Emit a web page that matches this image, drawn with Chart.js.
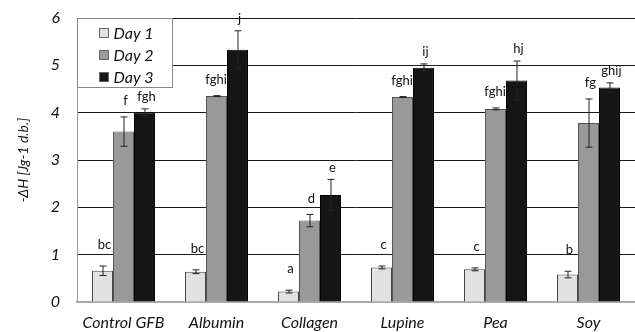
<!DOCTYPE html>
<html lang="en">
<head>
    <meta charset="UTF-8">
    <title>Enthalpy by protein and day</title>
    <script src="https://cdn.jsdelivr.net/npm/chart.js"></script>
    <style>
        html, body { margin: 0; padding: 0; background: #fff; }
        #wrap { width: 635px; height: 332px; }
    </style>
</head>
<body>
    <div id="wrap"><canvas id="dhChart" width="635" height="332"></canvas></div>

    <script>
        // categories and values
        const samples = ['Control GFB', 'Albumin', 'Collagen', 'Lupine', 'Pea', 'Soy'];
        const day1 = [0.66, 0.64, 0.22, 0.73, 0.69, 0.58];
        const day2 = [3.60, 4.35, 1.72, 4.33, 4.08, 3.78];
        const day3 = [4.01, 5.33, 2.26, 4.95, 4.68, 4.53];
        // standard deviations
        const err1 = [0.10, 0.04, 0.03, 0.03, 0.03, 0.07];
        const err2 = [0.31, 0.01, 0.13, 0.01, 0.02, 0.51];
        const err3 = [0.07, 0.40, 0.33, 0.08, 0.41, 0.10];
        // significance letters
        const sig1 = ['bc', 'bc', 'a', 'c', 'c', 'b'];
        const sig2 = ['f', 'fghi', 'd', 'fghi', 'fghi', 'fg'];
        const sig3 = ['fgh', 'j', 'e', 'ij', 'hj', 'ghij'];
        const yTicks = [0, 1, 2, 3, 4, 5, 6];

        const FONT = 'Lato';

        // error bars + letters above them
        const errorBars = {
            id: 'errorBars',
            afterDatasetsDraw(chart) {
                const ctx = chart.ctx;
                const y = chart.scales.y;
                const gaps = [21, 16, 12];
                ctx.save();
                chart.data.datasets.forEach((ds, di) => {
                    const meta = chart.getDatasetMeta(di);
                    meta.data.forEach((bar, i) => {
                        const v = ds.data[i], e = ds.err[i];
                        const yHi = y.getPixelForValue(v + e);
                        const yLo = y.getPixelForValue(v - e);
                        ctx.strokeStyle = '#222';
                        ctx.lineWidth = 1;
                        ctx.beginPath();
                        ctx.moveTo(bar.x + 0.5, yHi);
                        ctx.lineTo(bar.x + 0.5, yLo);
                        ctx.moveTo(bar.x - 3, yHi);
                        ctx.lineTo(bar.x + 4, yHi);
                        ctx.moveTo(bar.x - 3, yLo);
                        ctx.lineTo(bar.x + 4, yLo);
                        ctx.stroke();

                        ctx.fillStyle = '#111';
                        ctx.font = '13px ' + FONT;
                        ctx.textAlign = 'center';
                        ctx.textBaseline = 'middle';
                        const w = ctx.measureText(ds.sig[i]).width;
                        let cx = bar.x + 2;
                        // gray-bar letters stop at the black bar's edge
                        if (di === 1) cx = Math.min(cx, bar.x + bar.width / 2 - w / 2);
                        ctx.fillText(ds.sig[i], cx, yHi - gaps[di]);
                    });
                });
                ctx.restore();
            }
        };

        // boxed legend in the top-left corner of the plot
        const boxLegend = {
            id: 'boxLegend',
            afterDraw(chart) {
                const ctx = chart.ctx;
                const a = chart.chartArea;
                const x0 = Math.round(a.left) + 0.5, y0 = Math.round(a.top) + 0.5;
                ctx.save();
                ctx.fillStyle = '#fff';
                ctx.fillRect(x0, y0, 95, 69);
                ctx.strokeStyle = '#888';
                ctx.lineWidth = 1;
                ctx.strokeRect(x0, y0, 95, 69);
                chart.data.datasets.forEach((ds, i) => {
                    const cy = y0 + 14 + i * 22;
                    ctx.fillStyle = ds.backgroundColor;
                    ctx.fillRect(x0 + 22, cy - 4, 9, 9);
                    ctx.strokeStyle = '#666';
                    ctx.strokeRect(x0 + 22, cy - 4, 9, 9);
                    ctx.fillStyle = '#111';
                    ctx.font = 'italic 16px ' + FONT;
                    ctx.textAlign = 'left';
                    ctx.textBaseline = 'middle';
                    ctx.fillText(ds.label, x0 + 36, cy + 1);
                });
                ctx.restore();
            }
        };

        new Chart(document.getElementById('dhChart'), {
            type: 'bar',
            data: {
                labels: samples,
                datasets: [
                    { label: 'Day 1', data: day1, err: err1, sig: sig1,
                      backgroundColor: '#e1e1e1', borderColor: '#444', borderWidth: 1 },
                    { label: 'Day 2', data: day2, err: err2, sig: sig2,
                      backgroundColor: '#999999', borderColor: '#555', borderWidth: 1 },
                    { label: 'Day 3', data: day3, err: err3, sig: sig3,
                      backgroundColor: '#151515', borderColor: '#000', borderWidth: 1 }
                ]
            },
            options: {
                responsive: false,
                animation: false,
                layout: { padding: { top: 18, right: 0, left: 0, bottom: 0 } },
                datasets: { bar: { categoryPercentage: 0.677, barPercentage: 1.0 } },
                plugins: { legend: { display: false }, tooltip: { enabled: false } },
                scales: {
                    x: {
                        grid: { display: false },
                        border: { display: true, color: '#aaa', width: 2 },
                        ticks: { color: '#111', padding: 3, font: { family: FONT, size: 16, style: 'italic' } },
                        afterFit(s) { s.height = 30; s.paddingLeft = 0; s.paddingRight = 0; }
                    },
                    y: {
                        min: 0, max: 6,
                        afterBuildTicks(s) { s.ticks = yTicks.map(v => ({ value: v })); },
                        grid: {
                            drawTicks: false,
                            color: c => c.tick && c.tick.value === 0 ? 'rgba(0,0,0,0)' : '#1a1a1a',
                            lineWidth: 1
                        },
                        border: { display: true, color: '#999', width: 1 },
                        ticks: { color: '#111', padding: 17, font: { family: FONT, size: 16, style: 'italic' } },
                        title: {
                            display: true, text: '-ΔH [Jg-1 d.b.]', color: '#111',
                            padding: { top: 15, bottom: 0 },
                            font: { family: FONT, size: 14, style: 'italic' }
                        },
                        afterFit(s) { s.width = 77; s.paddingTop = 0; s.paddingBottom = 0; }
                    }
                }
            },
            plugins: [errorBars, boxLegend]
        });
    </script>
</body>
</html>
